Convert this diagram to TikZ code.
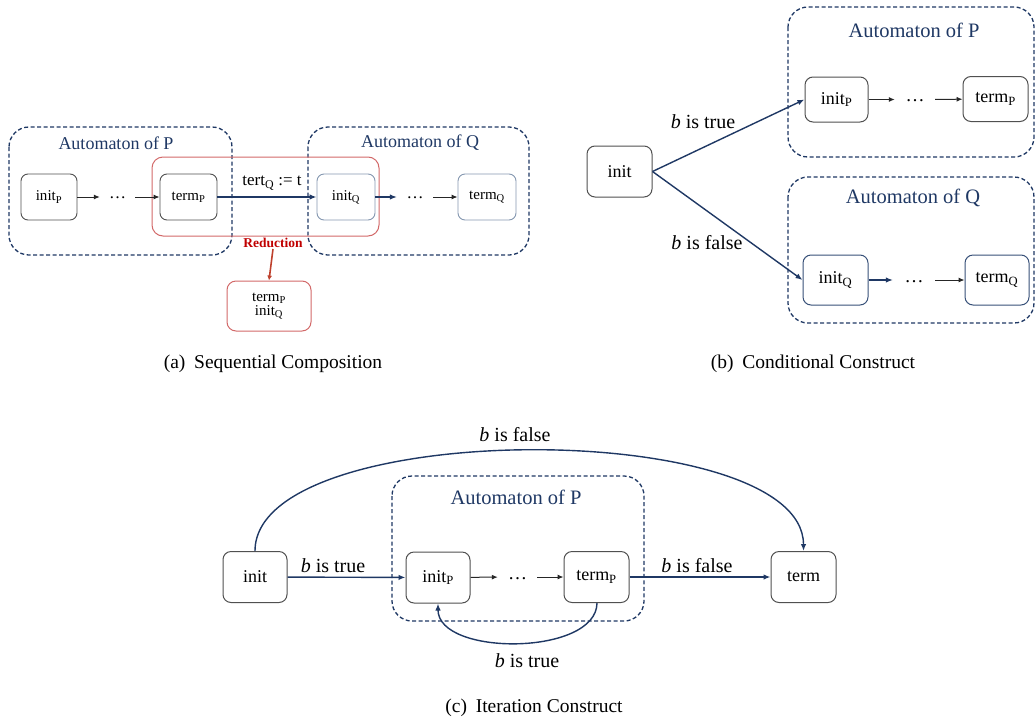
\documentclass[tikz,border=0pt]{standalone}
\usepackage{fontspec}
\newfontfamily\tms{Liberation Serif}
\usetikzlibrary{arrows.meta}
\definecolor{navy}{RGB}{31,56,100}
\definecolor{qblue}{RGB}{132,151,176}
\definecolor{qdark}{RGB}{55,80,120}
\definecolor{pgray}{RGB}{80,80,80}
\definecolor{redbox}{RGB}{210,105,105}
\definecolor{redtxt}{RGB}{192,0,0}
\definecolor{redarr}{RGB}{190,65,45}
\newcommand\fsz[1]{\tms\fontsize{#1}{#1}\selectfont}
\begin{document}
\begin{tikzpicture}[x=1pt,y=-1pt,
  dbox/.style={draw=navy, dashed, dash pattern=on 4pt off 2.5pt, line width=1.3pt, rounded corners=20pt},
  stA/.style={draw=pgray, rounded corners=7pt, line width=0.9pt, inner sep=0pt, font=\fsz{15}},
  stQA/.style={stA, draw=qblue},
  stB/.style={draw=pgray, rounded corners=8pt, line width=1pt, inner sep=0pt, font=\fsz{18}},
  stQB/.style={stB, draw=qdark},
  dotsnode/.style={inner sep=0pt, font=\fsz{17}},
  autolbl/.style={text=navy, font=\fsz{18}},
  autolblB/.style={text=navy, font=\fsz{20.5}},
  elbl/.style={font=\fsz{20}},
  captxt/.style={font=\fsz{19.5}},
  karr/.style={draw=black!85, line width=1pt, -{Latex[length=6pt,width=5pt]}},
  barr/.style={draw=navy, line width=1.4pt, -{Latex[length=7pt,width=5.5pt]}},
]
\useasboundingbox (0,0) rectangle (1035,723);
\clip (0,0) rectangle (1035,723);

% ---------------- (a) Sequential Composition ----------------
\draw[dbox] (9,127) rectangle (232,255);
\draw[dbox] (308,127) rectangle (529,255);
\draw[draw=redbox, line width=1pt, rounded corners=11pt] (152,157) rectangle (379,236);
\node[autolbl] (aAP) at (116,143) {Automaton of P};
\node[autolbl] (aAQ) at (420,143) {Automaton of Q};
\node[stA, minimum width=56pt, minimum height=46pt] (aiP) at (49,197) {init\textsubscript{P}};
\node[dotsnode, minimum width=35pt, minimum height=10pt] (ad1) at (117.5,197) {\raisebox{-3pt}{\dots}};
\node[stA, minimum width=57pt, minimum height=46pt] (atP) at (188.5,197) {term\textsubscript{P}};
\node[stQA, minimum width=58pt, minimum height=46pt] (aiQ) at (346,197) {init\textsubscript{Q}};
\node[dotsnode, minimum width=36pt, minimum height=10pt] (ad2) at (415,197) {\raisebox{-3pt}{\dots}};
\node[stQA, minimum width=58pt, minimum height=46pt] (atQ) at (487,197) {term\textsubscript{Q}};
\draw[karr] (aiP) -- (ad1);
\draw[karr] (ad1) -- (atP);
\draw[barr] (atP) -- (aiQ);
\draw[barr, line width=1.2pt] (aiQ) -- (ad2);
\draw[karr] (ad2) -- (atQ);
\node[font=\fsz{17}] (atert) at (272,183) {tert\textsubscript{Q} := t};
\node[font=\fsz{13.5}\bfseries, text=redtxt, inner sep=1pt] (ared) at (273,243) {Reduction};
\node[draw=redbox, line width=1pt, rounded corners=9pt, minimum width=84pt, minimum height=50pt,
      align=center, font=\fsz{15}, inner sep=0pt] (amerge) at (269,306)
      {term\textsubscript{P}\\[-1pt]init\textsubscript{Q}};
\draw[draw=redarr, line width=1.6pt, -{Latex[length=5pt,width=5pt]}] (ared.south) -- (amerge.north);
\node[captxt] (acap) at (273,364) {(a)\hspace{0.45em}Sequential Composition};

% ---------------- (b) Conditional Construct ----------------
\draw[dbox] (788,7) rectangle (1034,157);
\draw[dbox] (788,177) rectangle (1034,323);
\node[autolblB] (bAP) at (914,30) {Automaton of P};
\node[autolblB] (bAQ) at (913,198) {Automaton of Q};
\node[stB, minimum width=65pt, minimum height=51pt] (binit) at (619.5,171.5) {init};
\node[stB, minimum width=63pt, minimum height=45pt] (biP) at (836.5,99.5) {init\textsubscript{P}};
\node[dotsnode, font=\fsz{19}, minimum width=40pt, minimum height=10pt] (bd1) at (915,99.5) {\raisebox{-5pt}{\dots}};
\node[stB, minimum width=65pt, minimum height=45pt] (btP) at (995.5,99) {term\textsubscript{P}};
\node[stQB, minimum width=65pt, minimum height=50pt] (biQ) at (835.5,280) {init\textsubscript{Q}};
\node[dotsnode, font=\fsz{19}, minimum width=42pt, minimum height=10pt] (bd2) at (914,280) {\raisebox{-5pt}{\dots}};
\node[stQB, minimum width=64pt, minimum height=50pt] (btQ) at (997,280) {term\textsubscript{Q}};
\draw[barr] (binit.east) -- (biP.west);
\draw[barr] (binit.east) -- (biQ.west);
\draw[karr] (biP) -- (bd1);
\draw[karr] (bd1) -- (btP);
\draw[barr, line width=1.2pt] (biQ) -- (bd2);
\draw[karr] (bd2) -- (btQ);
\node[elbl] (btrue) at (703,122) {\textit{b} is true};
\node[elbl] (bfalse) at (707,243) {\textit{b} is false};
\node[captxt] (bcap) at (813,364) {(b)\hspace{0.45em}Conditional Construct};

% ---------------- (c) Iteration Construct ----------------
\draw[dbox] (392,476) rectangle (644,621);
\node[autolblB] (cAP) at (516,497) {Automaton of P};
\node[stB, minimum width=64pt, minimum height=51pt] (cinit) at (255,577) {init};
\node[stB, minimum width=64pt, minimum height=51pt] (ciP) at (438,577.5) {init\textsubscript{P}};
\node[dotsnode, font=\fsz{19}, minimum width=39pt, minimum height=10pt] (cd) at (517.5,577) {\raisebox{-5pt}{\dots}};
\node[stB, minimum width=65pt, minimum height=51pt] (ctP) at (596.5,577) {term\textsubscript{P}};
\node[stB, minimum width=65pt, minimum height=51pt] (cterm) at (803.5,577) {term};
\draw[barr] (cinit) -- (ciP);
\draw[karr] (ciP) -- (cd);
\draw[karr] (cd) -- (ctP);
\draw[barr] (ctP) -- (cterm);
\draw[barr] (cinit.north) .. controls ([yshift=134pt]cinit.north) and ([yshift=134pt]cterm.north) .. (cterm.north);
\draw[barr] ([xshift=0.5pt]ctP.south) .. controls ([yshift=-53pt]ctP.south) and ([yshift=-53pt]ciP.south) .. (ciP.south);
\node[elbl] (ctrue1) at (333,566) {\textit{b} is true};
\node[elbl] (cfalse1) at (697,566) {\textit{b} is false};
\node[elbl] (cfalse2) at (515,435) {\textit{b} is false};
\node[elbl] (ctrue2) at (527,661) {\textit{b} is true};
\node[captxt] (ccap) at (534,708) {(c)\hspace{0.45em}Iteration Construct};
\end{tikzpicture}
\end{document}
